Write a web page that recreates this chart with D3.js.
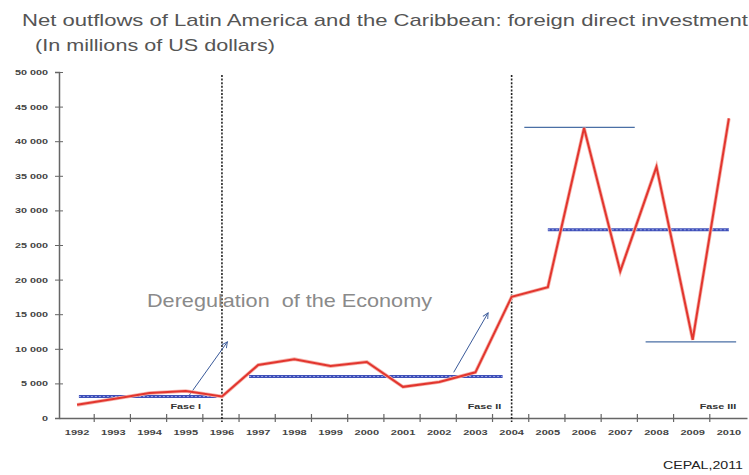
<!DOCTYPE html>
<html>
<head>
<meta charset="utf-8">
<script src="https://cdn.jsdelivr.net/npm/d3@7"></script>
<style>
  body { margin: 0; background: #fff; }
  text { font-family: "Liberation Sans", Arial, sans-serif; }
</style>
</head>
<body>
<svg id="mysvg" width="749" height="475"></svg>
<script>
// data
const years = ["1992","1993","1994","1995","1996","1997","1998","1999","2000","2001",
  "2002","2003","2004","2005","2006","2007","2008","2009","2010"];
const outflows = [1900, 2750, 3600, 3900, 3100, 7650, 8500, 7500, 8100, 4500,
  5200, 6600, 17500, 18900, 41900, 21200, 36300, 11300, 43300];
const yTicks = [0, 5000, 10000, 15000, 20000, 25000, 30000, 35000, 40000, 45000, 50000];

// phase averages: [from, to, value, from offset, to offset]
const phaseAvg = [
  ["1992", "1996", 3100, 0.05, -0.15],
  ["1997", "2003", 6000, -0.25, 0.75],
  ["2005", "2010", 27200, 0, 0]
];
const bounds = [["2006", 42000, -1.65, 1.4], ["2009", 11000, -1.3, 1.2]];
const phaseBreaks = ["1996", "2004"];
const phaseLabels = [["Fase I", "1995", 0], ["Fase II", "2003", 0.25], ["Fase III", "2010", -0.3]];
// arrows: [year, value, offset] -> [year, value, offset]
const arrows = [["1995", 3300, 0.1, "1996", 11000, 0.15], ["2002", 6600, 0.4, "2003", 15200, 0.35]];

const svg = d3.select("#mysvg");

const x = d3.scaleBand().domain(years).range([59, 747]).padding(0);
const y = d3.scaleLinear().domain([0, 50000]).range([418, 72]);
const cx = (yr, off = 0) => x(yr) + x.bandwidth() / 2 + off * x.step();

const fmt = d3.formatLocale({ decimal: ".", thousands: " ", grouping: [3], currency: ["", ""] }).format(",");

// the picture is stretched sideways; stretch text to match
function stretch(sel, k) {
  sel.each(function () {
    const w = this.getComputedTextLength();
    d3.select(this).attr("textLength", w * k).attr("lengthAdjust", "spacingAndGlyphs");
  });
}

// title
svg.append("text").attr("x", 22).attr("y", 26)
  .style("font-size", "17px").style("fill", "#555")
  .attr("textLength", 726).attr("lengthAdjust", "spacingAndGlyphs")
  .text("Net outflows of Latin America and the Caribbean: foreign direct investment");
svg.append("text").attr("x", 35).attr("y", 51)
  .style("font-size", "17px").style("fill", "#555")
  .attr("textLength", 240).attr("lengthAdjust", "spacingAndGlyphs")
  .text("(In millions of US dollars)");

// y axis
const yAxis = svg.append("g").attr("transform", "translate(59,0)")
  .call(d3.axisLeft(y).tickValues(yTicks).tickSize(4).tickFormat(fmt));
yAxis.select(".domain").attr("stroke", "#666").attr("stroke-width", 1.5);
yAxis.selectAll(".tick line").attr("stroke", "#666").attr("x2", 4).attr("x1", -4);
yAxis.selectAll(".tick text").attr("x", -11)
  .style("font-size", "8px").style("font-weight", "bold").style("fill", "#444")
  .style("font-family", "'Liberation Sans', Arial, sans-serif");
stretch(yAxis.selectAll(".tick text"), 1.35);

// x axis
const xAxis = svg.append("g").attr("transform", "translate(0,418)")
  .call(d3.axisBottom(x).tickSize(0).tickPadding(11));
xAxis.select(".domain").attr("stroke", "#666").attr("stroke-width", 1.5);
xAxis.selectAll(".tick text")
  .style("font-size", "8px").style("font-weight", "bold").style("fill", "#444")
  .style("font-family", "'Liberation Sans', Arial, sans-serif");
stretch(xAxis.selectAll(".tick text"), 1.38);
// category boundary ticks
svg.append("g").selectAll("line").data(years.slice(1))
  .join("line")
  .attr("x1", d => x(d) - 1).attr("x2", d => x(d) - 1)
  .attr("y1", 414).attr("y2", 422)
  .attr("stroke", "#666").attr("stroke-width", 1.2);

// phase breaks
svg.append("g").selectAll("line").data(phaseBreaks)
  .join("line")
  .attr("x1", d => cx(d)).attr("x2", d => cx(d))
  .attr("y1", 75).attr("y2", 422)
  .attr("stroke", "#222").attr("stroke-width", 1.6)
  .attr("stroke-dasharray", "2 1.6");

// phase average lines
const avg = svg.append("g");
avg.selectAll("line.base").data(phaseAvg)
  .join("line").attr("class", "base")
  .attr("x1", d => cx(d[0], d[3])).attr("x2", d => cx(d[1], d[4]))
  .attr("y1", d => y(d[2])).attr("y2", d => y(d[2]))
  .attr("stroke", "#3e4fb8").attr("stroke-width", 3);
avg.selectAll("line.dots").data(phaseAvg)
  .join("line").attr("class", "dots")
  .attr("x1", d => cx(d[0], d[3])).attr("x2", d => cx(d[1], d[4]))
  .attr("y1", d => y(d[2])).attr("y2", d => y(d[2]))
  .attr("stroke", "#9aa6e6").attr("stroke-width", 1)
  .attr("stroke-dasharray", "2 2");

// min / max bounds in phase III
svg.append("g").selectAll("line").data(bounds)
  .join("line")
  .attr("x1", d => cx(d[0], d[2])).attr("x2", d => cx(d[0], d[3]))
  .attr("y1", d => y(d[1])).attr("y2", d => y(d[1]))
  .attr("stroke", "#4a6fa5").attr("stroke-width", 1.2);

// arrows
svg.append("defs").append("marker")
  .attr("id", "ah").attr("viewBox", "0 0 10 10").attr("refX", 9).attr("refY", 5)
  .attr("markerWidth", 7).attr("markerHeight", 7).attr("orient", "auto")
  .append("path").attr("d", "M1,1 L9,5 L1,9").attr("fill", "none")
  .attr("stroke", "#3a5a9a").attr("stroke-width", 1.3);
svg.append("g").selectAll("line").data(arrows)
  .join("line")
  .attr("x1", d => cx(d[0], d[2])).attr("y1", d => y(d[1]))
  .attr("x2", d => cx(d[3], d[5])).attr("y2", d => y(d[4]))
  .attr("stroke", "#3a5a9a").attr("stroke-width", 1)
  .attr("marker-end", "url(#ah)");

// main series
const line = d3.line().x((d, i) => cx(years[i])).y(d => y(d));
svg.append("path").datum(outflows)
  .attr("d", line).attr("fill", "none")
  .attr("stroke", "#f6b4ac").attr("stroke-width", 3.6).attr("stroke-linejoin", "miter");
svg.append("path").datum(outflows)
  .attr("d", line).attr("fill", "none")
  .attr("stroke", "#e2352e").attr("stroke-width", 2).attr("stroke-linejoin", "miter");

// phase labels
const fl = svg.append("g").selectAll("text").data(phaseLabels)
  .join("text")
  .attr("x", d => cx(d[1], d[2])).attr("y", 409)
  .attr("text-anchor", "middle")
  .style("font-size", "8px").style("font-weight", "bold").style("fill", "#333")
  .text(d => d[0]);
stretch(fl, 1.35);

// annotation
svg.append("text").attr("x", 147).attr("y", 307)
  .style("font-size", "18.5px").style("fill", "#8a8a8a")
  .attr("xml:space", "preserve")
  .attr("textLength", 285).attr("lengthAdjust", "spacingAndGlyphs")
  .text("Deregulation  of the Economy");

svg.append("text").attr("x", 663).attr("y", 469)
  .style("font-size", "11.5px").style("fill", "#222")
  .attr("textLength", 80).attr("lengthAdjust", "spacingAndGlyphs")
  .text("CEPAL,2011");
</script>
</body>
</html>
